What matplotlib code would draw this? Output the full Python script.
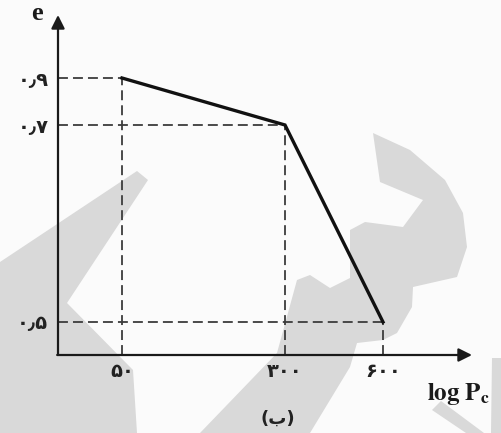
import matplotlib.pyplot as plt
import numpy as np
from matplotlib.patches import Polygon
from matplotlib.transforms import Affine2D

# data points of the e - log Pc diagram
pc_vals = [50, 300, 600]
e_vals = [0.9, 0.7, 0.5]
x_labels = ["۵۰", "۳۰۰", "۶۰۰"]
y_labels = ["۰٫۹", "۰٫۷", "۰٫۵"]

# the sketch is not to scale: anchor values -> pixel offsets along each axis
x_anchor_vals = [0, 50, 300, 600, 700]
x_anchor_px = [0, 64, 227, 325, 414]
y_anchor_vals = [0.4, 0.5, 0.7, 0.9, 1.0]
y_anchor_px = [0, 33, 230, 277, 340]

W, H = 501, 433
fig = plt.figure(figsize=(W / 100, H / 100), dpi=100, facecolor="#fbfbfb")

# faint watermark shapes in the background (pixel coords, origin top-left)
px = Affine2D().scale(1 / W, -1 / H).translate(0, 1) + fig.transFigure
wm = "#d9d9d9"
shapes = [
    [(137, 171), (148, 180), (67, 303), (133, 370), (137, 433), (0, 433), (0, 262)],
    [(200, 433), (277, 353), (297, 280), (310, 275), (330, 288), (350, 278),
     (350, 230), (365, 222), (403, 227), (423, 200), (380, 182), (373, 133),
     (410, 150), (445, 180), (463, 213), (467, 247), (457, 277), (413, 287),
     (412, 307), (397, 333), (383, 340), (357, 343), (350, 367), (310, 433)],
    [(492, 358), (501, 358), (501, 433), (491, 433)],
    [(432, 410), (441, 401), (484, 433), (466, 433)],
]
for s in shapes:
    fig.add_artist(Polygon(s, closed=True, transform=px, facecolor=wm,
                           edgecolor="none", zorder=-1))

ax = fig.add_axes([58 / W, (H - 355) / H, 414 / W, 340 / H])
ax.patch.set_alpha(0)


def fwd_x(v):
    return np.interp(v, x_anchor_vals, x_anchor_px)


def inv_x(p):
    return np.interp(p, x_anchor_px, x_anchor_vals)


def fwd_y(v):
    return np.interp(v, y_anchor_vals, y_anchor_px)


def inv_y(p):
    return np.interp(p, y_anchor_px, y_anchor_vals)


ax.set_xscale("function", functions=(fwd_x, inv_x))
ax.set_yscale("function", functions=(fwd_y, inv_y))
ax.set_xlim(x_anchor_vals[0], x_anchor_vals[-1])
ax.set_ylim(y_anchor_vals[0], y_anchor_vals[-1])

# dashed guide lines
for x, y in zip(pc_vals, e_vals):
    ax.plot([x_anchor_vals[0], x], [y, y], color="#3c3c3c", lw=1.3,
            dashes=(5.5, 2.8), zorder=2)
    ax.plot([x, x], [y_anchor_vals[0], y], color="#3c3c3c", lw=1.3,
            dashes=(5.5, 2.8), zorder=2)

# the curve
ax.plot(pc_vals, e_vals, color="#111111", lw=2.4, solid_joinstyle="miter", zorder=3)

# axes drawn as arrows
for s in ax.spines.values():
    s.set_visible(False)
arrow = dict(arrowstyle="-|>", lw=1.6, color="#1a1a1a", mutation_scale=20,
             shrinkA=0, shrinkB=0)
ax.annotate("", xy=(0, 1), xytext=(0, 0), xycoords="axes fraction", arrowprops=arrow)
ax.annotate("", xy=(1, 0), xytext=(-0.002, 0), xycoords="axes fraction", arrowprops=arrow)

ax.set_xticks(pc_vals, x_labels, fontsize=14, fontweight="bold", color="#222222")
ax.set_yticks(e_vals, y_labels, fontsize=14, fontweight="bold", color="#222222")
ax.tick_params(length=0)
ax.tick_params(axis="x", pad=5)
ax.tick_params(axis="y", pad=7)

plt.rcParams["mathtext.fontset"] = "stix"
fig.text(37 / W, 1 - 14 / H, "e", fontsize=19, fontweight="bold",
         family="Liberation Serif", ha="center", va="center", color="#1a1a1a")
fig.text(427 / W, 1 - 400 / H, r"$\mathbf{log\ P_c}$", fontsize=18,
         ha="left", va="baseline", color="#1a1a1a")
fig.text(278 / W, 1 - 419 / H, "(ب)", fontsize=13, fontweight="bold",
         ha="center", va="center", color="#222222")

fig.savefig("out.png", dpi=100, facecolor=fig.get_facecolor())
